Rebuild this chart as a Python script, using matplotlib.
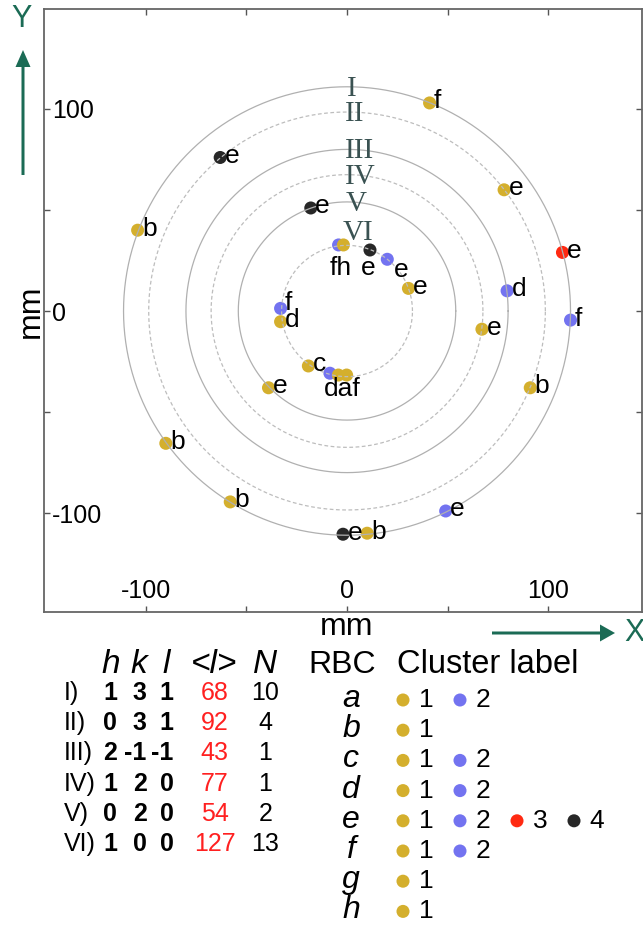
import numpy as np
import matplotlib
matplotlib.use("Agg")
import matplotlib.pyplot as plt

plt.rcParams['font.family'] = ['Liberation Sans', 'DejaVu Sans']
plt.rcParams['axes.unicode_minus'] = False

# ---------------- data ----------------
ring_ids = ['I', 'II', 'III', 'IV', 'V', 'VI']
ring_radius = [111, 98.5, 80, 67.5, 54, 32.5]
ring_dashed = [False, True, False, True, False, True]
h_idx = [1, 0, 2, 1, 0, 1]
k_idx = [3, 3, -1, 2, 2, 0]
l_idx = [1, 1, -1, 0, 0, 0]
mean_l = [68, 92, 43, 77, 54, 127]
n_count = [10, 4, 1, 1, 2, 13]

pt_x = [41, -104, 107, 111, -90, -58, 49, -2, 10,
        -63, 78, 91,
        79.5,
        67,
        -18, -39,
        -4.2, -1.8, 11.4, 20, 30.5, -33, -33, -19.2, -8.5, -4.3, -0.2]
pt_y = [103, 40, 29, -4.5, -65.5, -94.5, -99, -110.5, -110,
        76, 60, -38,
        10,
        -9,
        51, -38,
        32.7, 32.7, 30.2, 25.6, 11.2, 1.3, -5.3, -27.2, -30.8, -31.7, -31.7]
pt_letter = ['f', 'b', 'e', 'f', 'b', 'b', 'e', 'e', 'b',
             'e', 'e', 'b',
             'd',
             'e',
             'e', 'e',
             'f', 'h', 'e', 'e', 'e', 'f', 'd', 'c', 'd', 'a', 'f']
pt_cluster = [1, 1, 3, 2, 1, 1, 2, 4, 1,
              4, 1, 1,
              2,
              1,
              4, 1,
              2, 1, 4, 2, 1, 2, 1, 1, 2, 1, 1]

rbc_letters = ['a', 'b', 'c', 'd', 'e', 'f', 'g', 'h']
rbc_clusters = [[1, 2], [1], [1, 2], [1, 2], [1, 2, 3, 4], [1, 2], [1], [1]]

cluster_colors = {1: '#d4af2d', 2: '#7373f0', 3: '#ff2a12', 4: '#272727'}

# ---------------- layout ----------------
W, H = 643, 926
fig = plt.figure(figsize=(W / 100, H / 100), dpi=100)
ax = fig.add_axes([44 / W, (H - 612) / H, 598 / W, 603 / H])
ax.set_xlim(-150.5, 146.5)
ax.set_ylim(-149.0, 149.5)

for s in ax.spines.values():
    s.set_color('#666666')
    s.set_linewidth(1.3)

ax.set_xticks([-100, -50, 0, 50, 100], ['-100', '', '0', '', '100'])
ax.set_yticks([-100, -50, 0, 50, 100], ['-100', '', '0', '', '100'])
ax.tick_params(axis='both', which='both', direction='in', length=4.5, width=1.0,
               color='#555555', labelsize=18, top=True, right=True)
ax.tick_params(axis='x', pad=-10)
ax.tick_params(axis='y', pad=-6)
for lab in ax.get_xticklabels():
    lab.set_va('baseline')
for lab in ax.get_yticklabels():
    lab.set_ha('left')

ax.set_xlabel('mm', fontsize=23)
ax.xaxis.set_label_coords((347 - 44) / 598, (612 - 635) / 603)
ax.xaxis.label.set_va('baseline')
ax.set_ylabel('mm', fontsize=23)
ax.yaxis.set_label_coords((39 - 44) / 598, (612 - 311) / 603)
ax.yaxis.label.set_va('baseline')
ax.yaxis.label.set_ha('center')

# rings
theta = np.linspace(0, 2 * np.pi, 721)
for r, dashed in zip(ring_radius, ring_dashed):
    ax.plot(r * np.cos(theta), r * np.sin(theta),
            color='#bdbdbd' if dashed else '#b0b0b0',
            lw=0.9, ls=(0, (3, 2)) if dashed else '-', zorder=3.5)

# ring labels (offsets in pixels: right, down)
ring_lab_off = [(5, 2), (8, 2), (13, 2), (13, 2), (9, 2), (11, -12)]
for rid, r, (dx, dy) in zip(ring_ids, ring_radius, ring_lab_off):
    ax.annotate(rid, (0, r), xytext=(dx * 0.72, -dy * 0.72), textcoords='offset points',
                ha='center', va='center', fontsize=21, color='#3a5252',
                family=['Liberation Serif', 'DejaVu Serif'], zorder=5)

# points
ax.scatter(pt_x, pt_y, s=88, c=[cluster_colors[c] for c in pt_cluster],
           edgecolors='none', zorder=3)

# point labels
special = {17: ('fh', -3, 23.5, 'center'),
           18: ('e', -2, 18.5, 'center'),
           19: ('e', 13.7, 11, 'center'),
           21: ('f', 4.0, -5.0, 'left'),
           25: ('daf', 3.4, 13.5, 'center')}
hidden = {16, 24, 26}
for i, (x, y, letter) in enumerate(zip(pt_x, pt_y, pt_letter)):
    if i in hidden:
        continue
    if i in special:
        txt, dx, dy, ha = special[i]
    else:
        txt, dx, dy, ha = letter, 4.5, -1.5, 'left'
    ax.annotate(txt, (x, y), xytext=(dx * 0.72, -dy * 0.72), textcoords='offset points',
                ha=ha, va='center', fontsize=19, color='black', zorder=4)

# ---------------- overlay (pixel coordinates) ----------------
ov = fig.add_axes([0, 0, 1, 1], zorder=5)
ov.set_xlim(0, W)
ov.set_ylim(H, 0)
ov.set_axis_off()

green = '#1b6b55'
ov.arrow(23, 175, 0, -125, width=3, head_width=15, head_length=17,
         length_includes_head=True, color=green, lw=0)
ov.text(22, 19, 'Y', fontsize=22, color=green, ha='center', va='center')
ov.arrow(492, 633, 123, 0, width=3, head_width=17, head_length=15,
         length_includes_head=True, color=green, lw=0)
ov.text(624, 633, 'X', fontsize=22, color=green, ha='left', va='center')

# hkl table
col_x = [110.7, 139.3, 166.4, 214.5, 265.3]
hkl_right = [117, 146.5, 173.5]
hdr_y = 673
for txt, x in zip(['h', 'k', 'l', '<l>', 'N'], col_x):
    ov.text(x, hdr_y, txt, fontsize=24, style='italic', ha='center', va='baseline')
for i, rid in enumerate(ring_ids):
    y = 700 + 30.2 * i
    ov.text(64, y, rid + ')', fontsize=18, ha='left', va='baseline')
    for val, x in zip([h_idx[i], k_idx[i], l_idx[i]], hkl_right):
        ov.text(x, y, str(val), fontsize=18, fontweight='bold', ha='right', va='baseline')
    ov.text(col_x[3], y, str(mean_l[i]), fontsize=18, color='#ff2020', ha='center', va='baseline')
    ov.text(col_x[4], y, str(n_count[i]), fontsize=18, ha='center', va='baseline')

# RBC / cluster legend
ov.text(342, hdr_y, 'RBC', fontsize=23, ha='center', va='baseline')
ov.text(488, hdr_y, 'Cluster label', fontsize=23.5, ha='center', va='baseline')
for i, (letter, cl) in enumerate(zip(rbc_letters, rbc_clusters)):
    y = 707 + 30.2 * i
    ov.text(351, y, letter, fontsize=23, style='italic', ha='center', va='baseline')
    for c in cl:
        dot_x = 403 + 57 * (c - 1)
        ov.scatter([dot_x], [y - 7], s=88, color=cluster_colors[c], edgecolors='none')
        ov.text(dot_x + 23, y, str(c), fontsize=19, ha='center', va='baseline')

fig.savefig('out.png', dpi=100)
